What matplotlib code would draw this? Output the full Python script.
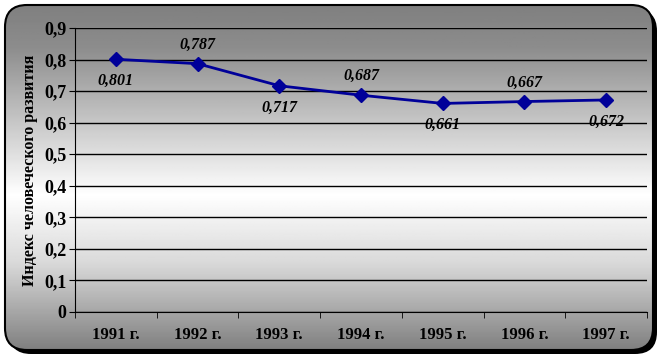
import numpy as np
import matplotlib
matplotlib.use("Agg")
import matplotlib.pyplot as plt
from matplotlib.patches import FancyBboxPatch

years = ["1991 г.", "1992 г.", "1993 г.", "1994 г.", "1995 г.", "1996 г.", "1997 г."]
hdi = [0.801, 0.787, 0.717, 0.687, 0.661, 0.667, 0.672]
label_above = [False, True, False, True, False, True, False]

plt.rcParams['font.family'] = ['Liberation Serif', 'DejaVu Serif']

fig = plt.figure(figsize=(6.65, 3.64), dpi=100)
fig.patch.set_facecolor('white')

# background: shadow + rounded box with vertical gradient
bg = fig.add_axes([0, 0, 1, 1], zorder=0)
bg.set_xlim(0, 665)
bg.set_ylim(364, 0)
bg.axis('off')
shadow = FancyBboxPatch((9, 9), 648, 345, boxstyle="round,pad=0,rounding_size=22",
                        facecolor='black', edgecolor='none', zorder=0)
bg.add_patch(shadow)
box = FancyBboxPatch((5, 5), 648, 345, boxstyle="round,pad=0,rounding_size=22",
                     facecolor='none', edgecolor='black', linewidth=1.5, zorder=2)
t = np.linspace(0, 1, 300)
g = np.interp(t, [0, 0.12, 0.55, 0.75, 1.0], [0.50, 0.55, 1.0, 0.85, 0.50])
img = np.repeat(g[:, None], 2, axis=1)
im = bg.imshow(img, cmap='gray', vmin=0, vmax=1, extent=[5, 653, 350, 5],
               aspect='auto', zorder=1)
bg.add_patch(box)
im.set_clip_path(box)

ax = fig.add_axes([0.1128, 0.1429, 0.973 - 0.1128, 0.923 - 0.1429], zorder=1)
ax.patch.set_alpha(0)
x = np.arange(len(years))
ax.plot(x, hdi, color='#000099', linewidth=2, marker='D', markersize=7, zorder=3)

for xi, v, up in zip(x, hdi, label_above):
    if up:
        ax.annotate(f"{v:.3f}".replace('.', ','), (xi, v), xytext=(0, 8), textcoords='offset points',
                    ha='center', va='bottom', fontsize=11.5, fontweight='bold', fontstyle='italic')
    else:
        ax.annotate(f"{v:.3f}".replace('.', ','), (xi, v), xytext=(0, -10), textcoords='offset points',
                    ha='center', va='top', fontsize=11.5, fontweight='bold', fontstyle='italic')

ax.set_xlim(-0.5, len(years) - 0.5)
ax.set_ylim(0, 0.9)
yt = np.arange(0, 0.91, 0.1)
ax.set_yticks(yt)
ax.set_yticklabels(['0'] + [f"{v:.1f}".replace('.', ',') for v in yt[1:]],
                   fontsize=13, fontweight='bold')
ax.set_xticks(x)
ax.set_xticklabels(years, fontsize=12, fontweight='bold')
ax.set_xticks(np.arange(-0.5, len(years), 1), minor=True)
ax.tick_params(axis='x', which='major', length=0, pad=11)
ax.tick_params(axis='x', which='minor', length=4, direction='out')
ax.tick_params(axis='y', length=4, direction='out', pad=2)
ax.grid(axis='y', color='black', linewidth=1)
for s in ['top', 'right']:
    ax.spines[s].set_visible(False)
for s in ['left', 'bottom']:
    ax.spines[s].set_color('black')
ax.set_ylabel("Индекс человеческого развития", fontsize=11.5, fontweight='bold', va='center')
ax.yaxis.set_label_coords(-0.078, 0.5)

fig.savefig("out.png", dpi=100)
